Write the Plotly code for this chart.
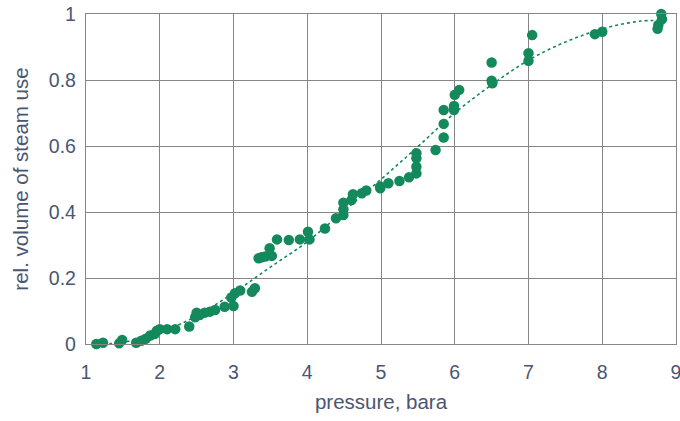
import plotly.graph_objects as go

# measured points (pressure in bara, relative volume of steam use)
pressure = [1.14, 1.23, 1.45, 1.49, 1.68, 1.75, 1.81, 1.87, 1.93, 1.96, 2.0, 2.10, 2.21, 2.40,
            2.48, 2.50, 2.54, 2.61, 2.68, 2.75, 2.88, 2.97, 3.0, 3.02, 3.09, 3.25, 3.29,
            3.34, 3.38, 3.43, 3.49, 3.52, 3.59, 3.75, 3.90, 4.01, 4.03, 4.24, 4.39,
            4.49, 4.49, 4.49, 4.60, 4.62, 4.74, 4.80, 4.99, 4.99, 5.10, 5.25, 5.38,
            5.48, 5.48, 5.48, 5.48, 5.74, 5.85, 5.85, 5.85, 5.99, 5.99, 6.0, 6.06,
            6.50, 6.50, 6.51, 7.0, 7.0, 7.05, 7.90, 8.0, 8.80, 8.81, 8.76, 8.75]
steam_use = [0.00, 0.004, 0.002, 0.012, 0.004, 0.01, 0.016, 0.026, 0.03, 0.04, 0.045, 0.045, 0.045, 0.053,
             0.081, 0.095, 0.088, 0.095, 0.098, 0.103, 0.113, 0.141, 0.115, 0.154, 0.162, 0.158, 0.169,
             0.26, 0.263, 0.265, 0.29, 0.267, 0.317, 0.315, 0.317, 0.34, 0.317, 0.35, 0.381,
             0.391, 0.408, 0.428, 0.436, 0.454, 0.457, 0.465, 0.472, 0.477, 0.487, 0.494, 0.505,
             0.517, 0.537, 0.563, 0.578, 0.588, 0.626, 0.667, 0.709, 0.709, 0.721, 0.755, 0.770,
             0.853, 0.798, 0.790, 0.881, 0.858, 0.936, 0.939, 0.946, 1.0, 0.984, 0.967, 0.955]

# trend line
trend_x = [1.15, 1.5, 2.0, 2.5, 3.0, 3.5, 4.0, 4.5, 5.0, 5.5, 6.0, 6.5, 7.0, 7.5, 8.0, 8.5, 8.8]
trend_y = [0.0, 0.005, 0.035, 0.085, 0.155, 0.233, 0.31, 0.404, 0.499, 0.598, 0.70, 0.785,
           0.86, 0.915, 0.955, 0.978, 0.98]

x_ticks = [1, 2, 3, 4, 5, 6, 7, 8, 9]
x_tick_labels = ["1", "2", "3", "4", "5", "6", "7", "8", "9"]
y_ticks = [0, 0.2, 0.4, 0.6, 0.8, 1]
y_tick_labels = ["0", "0.2", "0.4", "0.6", "0.8", "1"]

GREEN = "#13895c"
TEXT = "#4a5672"
GRID = "#858585"

fig = go.Figure()
fig.add_trace(go.Scatter(x=trend_x, y=trend_y, mode="lines",
                         line=dict(color=GREEN, width=1.6, dash="dot", shape="spline"),
                         hoverinfo="skip", cliponaxis=False))
fig.add_trace(go.Scatter(x=pressure, y=steam_use, mode="markers",
                         marker=dict(color=GREEN, size=10.5, line=dict(width=0)),
                         cliponaxis=False))

font = dict(family="Liberation Sans, Arial, sans-serif", color=TEXT)
fig.update_layout(
    width=680, height=421,
    margin=dict(l=86, r=4, t=14, b=77, autoexpand=False),
    paper_bgcolor="white", plot_bgcolor="white",
    showlegend=False,
    font=font,
    xaxis=dict(range=[1, 9], tickvals=x_ticks, ticktext=x_tick_labels,
               automargin=False,
               showgrid=True, gridcolor=GRID, gridwidth=1.3,
               showline=True, linecolor=GRID, linewidth=1.3, mirror=True,
               zeroline=False, ticks="outside", ticklen=10, tickcolor="rgba(0,0,0,0)",
               ticklabeloverflow="allow",
               tickfont=dict(size=19.5, color=TEXT),
               title=dict(text="pressure, bara", font=dict(size=20.5, color=TEXT), standoff=13)),
    yaxis=dict(range=[0, 1], tickvals=y_ticks, ticktext=y_tick_labels,
               automargin=False,
               showgrid=True, gridcolor=GRID, gridwidth=1.3,
               showline=True, linecolor=GRID, linewidth=1.3, mirror=True,
               zeroline=False, ticks="outside", ticklen=5, tickcolor="rgba(0,0,0,0)",
               ticklabeloverflow="allow",
               tickfont=dict(size=19.5, color=TEXT),
               title=dict(text="rel. volume of steam use", font=dict(size=20.5, color=TEXT), standoff=14)),
)

fig.write_html("out.html")
